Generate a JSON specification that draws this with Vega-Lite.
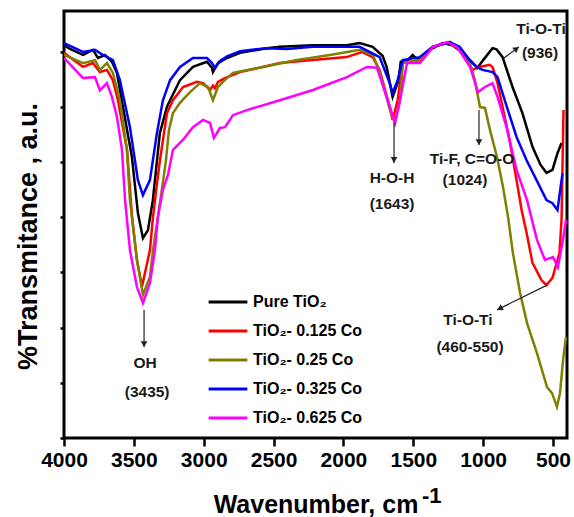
{
"$schema": "https://vega.github.io/schema/vega-lite/v6.json",
"width": 503, "height": 427,
"autosize": "none",
"padding": {"left": 64, "top": 11, "right": 7, "bottom": 79},
"background": "white",
"config": {"view": {"stroke": "black", "strokeWidth": 3}, "font": "Liberation Sans"},
"datasets": {
"spec": [
{"s":"Pure TiO₂","w":4000,"t":92.0},{"s":"Pure TiO₂","w":3957,"t":91.1},{"s":"Pure TiO₂","w":3864,"t":89.7},{"s":"Pure TiO₂","w":3793,"t":90.9},{"s":"Pure TiO₂","w":3757,"t":89.0},{"s":"Pure TiO₂","w":3707,"t":89.7},{"s":"Pure TiO₂","w":3657,"t":88.1},{"s":"Pure TiO₂","w":3621,"t":85.5},{"s":"Pure TiO₂","w":3578,"t":77.5},{"s":"Pure TiO₂","w":3514,"t":65.8},{"s":"Pure TiO₂","w":3471,"t":52.7},{"s":"Pure TiO₂","w":3435,"t":46.8},{"s":"Pure TiO₂","w":3399,"t":48.7},{"s":"Pure TiO₂","w":3364,"t":55.7},{"s":"Pure TiO₂","w":3314,"t":71.4},{"s":"Pure TiO₂","w":3264,"t":77.5},{"s":"Pure TiO₂","w":3241,"t":79.1},{"s":"Pure TiO₂","w":3170,"t":83.8},{"s":"Pure TiO₂","w":3077,"t":86.9},{"s":"Pure TiO₂","w":2977,"t":88.1},{"s":"Pure TiO₂","w":2941,"t":86.7},{"s":"Pure TiO₂","w":2934,"t":85.7},{"s":"Pure TiO₂","w":2898,"t":87.8},{"s":"Pure TiO₂","w":2833,"t":89.0},{"s":"Pure TiO₂","w":2740,"t":90.2},{"s":"Pure TiO₂","w":2549,"t":91.3},{"s":"Pure TiO₂","w":2456,"t":91.6},{"s":"Pure TiO₂","w":2220,"t":92.0},{"s":"Pure TiO₂","w":1977,"t":92.0},{"s":"Pure TiO₂","w":1884,"t":92.5},{"s":"Pure TiO₂","w":1791,"t":91.6},{"s":"Pure TiO₂","w":1720,"t":89.5},{"s":"Pure TiO₂","w":1691,"t":86.9},{"s":"Pure TiO₂","w":1648,"t":79.9},{"s":"Pure TiO₂","w":1605,"t":83.8},{"s":"Pure TiO₂","w":1590,"t":88.1},{"s":"Pure TiO₂","w":1540,"t":88.5},{"s":"Pure TiO₂","w":1505,"t":89.7},{"s":"Pure TiO₂","w":1470,"t":88.6},{"s":"Pure TiO₂","w":1455,"t":89.0},{"s":"Pure TiO₂","w":1420,"t":89.7},{"s":"Pure TiO₂","w":1383,"t":90.9},{"s":"Pure TiO₂","w":1290,"t":92.5},{"s":"Pure TiO₂","w":1219,"t":92.0},{"s":"Pure TiO₂","w":1147,"t":90.2},{"s":"Pure TiO₂","w":1080,"t":88.0},{"s":"Pure TiO₂","w":1040,"t":86.7},{"s":"Pure TiO₂","w":1000,"t":88.5},{"s":"Pure TiO₂","w":933,"t":91.3},{"s":"Pure TiO₂","w":904,"t":91.0},{"s":"Pure TiO₂","w":861,"t":89.2},{"s":"Pure TiO₂","w":790,"t":82.2},{"s":"Pure TiO₂","w":719,"t":76.1},{"s":"Pure TiO₂","w":647,"t":68.2},{"s":"Pure TiO₂","w":590,"t":64.0},{"s":"Pure TiO₂","w":547,"t":62.1},{"s":"Pure TiO₂","w":504,"t":62.8},{"s":"Pure TiO₂","w":468,"t":66.7},{"s":"Pure TiO₂","w":439,"t":69.1},

{"s":"TiO₂- 0.125 Co","w":4000,"t":90.2},{"s":"TiO₂- 0.125 Co","w":3864,"t":86.9},{"s":"TiO₂- 0.125 Co","w":3793,"t":87.8},{"s":"TiO₂- 0.125 Co","w":3743,"t":85.7},{"s":"TiO₂- 0.125 Co","w":3693,"t":86.2},{"s":"TiO₂- 0.125 Co","w":3650,"t":83.8},{"s":"TiO₂- 0.125 Co","w":3614,"t":79.1},{"s":"TiO₂- 0.125 Co","w":3549,"t":67.5},{"s":"TiO₂- 0.125 Co","w":3513,"t":51.8},{"s":"TiO₂- 0.125 Co","w":3478,"t":41.7},{"s":"TiO₂- 0.125 Co","w":3442,"t":35.4},{"s":"TiO₂- 0.125 Co","w":3385,"t":44.0},{"s":"TiO₂- 0.125 Co","w":3363,"t":51.8},{"s":"TiO₂- 0.125 Co","w":3334,"t":59.7},{"s":"TiO₂- 0.125 Co","w":3313,"t":65.1},{"s":"TiO₂- 0.125 Co","w":3263,"t":76.1},{"s":"TiO₂- 0.125 Co","w":3220,"t":79.1},{"s":"TiO₂- 0.125 Co","w":3148,"t":82.2},{"s":"TiO₂- 0.125 Co","w":3048,"t":83.4},{"s":"TiO₂- 0.125 Co","w":3005,"t":83.1},{"s":"TiO₂- 0.125 Co","w":2955,"t":81.5},{"s":"TiO₂- 0.125 Co","w":2934,"t":82.5},{"s":"TiO₂- 0.125 Co","w":2920,"t":81.9},{"s":"TiO₂- 0.125 Co","w":2898,"t":83.4},{"s":"TiO₂- 0.125 Co","w":2848,"t":84.3},{"s":"TiO₂- 0.125 Co","w":2740,"t":85.7},{"s":"TiO₂- 0.125 Co","w":2456,"t":87.8},{"s":"TiO₂- 0.125 Co","w":2220,"t":88.5},{"s":"TiO₂- 0.125 Co","w":1977,"t":89.2},{"s":"TiO₂- 0.125 Co","w":1869,"t":90.4},{"s":"TiO₂- 0.125 Co","w":1791,"t":89.2},{"s":"TiO₂- 0.125 Co","w":1741,"t":86.2},{"s":"TiO₂- 0.125 Co","w":1669,"t":77.5},{"s":"TiO₂- 0.125 Co","w":1648,"t":74.5},{"s":"TiO₂- 0.125 Co","w":1612,"t":79.1},{"s":"TiO₂- 0.125 Co","w":1576,"t":87.8},{"s":"TiO₂- 0.125 Co","w":1455,"t":88.5},{"s":"TiO₂- 0.125 Co","w":1362,"t":91.6},{"s":"TiO₂- 0.125 Co","w":1240,"t":92.7},{"s":"TiO₂- 0.125 Co","w":1169,"t":90.9},{"s":"TiO₂- 0.125 Co","w":1076,"t":86.2},{"s":"TiO₂- 0.125 Co","w":1026,"t":86.9},{"s":"TiO₂- 0.125 Co","w":954,"t":87.4},{"s":"TiO₂- 0.125 Co","w":933,"t":86.9},{"s":"TiO₂- 0.125 Co","w":897,"t":83.1},{"s":"TiO₂- 0.125 Co","w":861,"t":77.5},{"s":"TiO₂- 0.125 Co","w":811,"t":69.8},{"s":"TiO₂- 0.125 Co","w":761,"t":60.4},{"s":"TiO₂- 0.125 Co","w":725,"t":53.4},{"s":"TiO₂- 0.125 Co","w":690,"t":48.2},{"s":"TiO₂- 0.125 Co","w":647,"t":41.0},{"s":"TiO₂- 0.125 Co","w":583,"t":37.0},{"s":"TiO₂- 0.125 Co","w":547,"t":35.8},{"s":"TiO₂- 0.125 Co","w":504,"t":37.5},{"s":"TiO₂- 0.125 Co","w":454,"t":43.3},{"s":"TiO₂- 0.125 Co","w":439,"t":51.1},{"s":"TiO₂- 0.125 Co","w":425,"t":76.8},

{"s":"TiO₂- 0.25 Co","w":4000,"t":89.7},{"s":"TiO₂- 0.25 Co","w":3864,"t":87.8},{"s":"TiO₂- 0.25 Co","w":3778,"t":88.5},{"s":"TiO₂- 0.25 Co","w":3743,"t":86.2},{"s":"TiO₂- 0.25 Co","w":3693,"t":87.8},{"s":"TiO₂- 0.25 Co","w":3650,"t":85.5},{"s":"TiO₂- 0.25 Co","w":3600,"t":79.1},{"s":"TiO₂- 0.25 Co","w":3550,"t":67.5},{"s":"TiO₂- 0.25 Co","w":3528,"t":55.7},{"s":"TiO₂- 0.25 Co","w":3478,"t":41.7},{"s":"TiO₂- 0.25 Co","w":3435,"t":33.5},{"s":"TiO₂- 0.25 Co","w":3385,"t":37.7},{"s":"TiO₂- 0.25 Co","w":3363,"t":44.0},{"s":"TiO₂- 0.25 Co","w":3328,"t":51.8},{"s":"TiO₂- 0.25 Co","w":3290,"t":60.4},{"s":"TiO₂- 0.25 Co","w":3270,"t":65.1},{"s":"TiO₂- 0.25 Co","w":3249,"t":72.1},{"s":"TiO₂- 0.25 Co","w":3220,"t":76.1},{"s":"TiO₂- 0.25 Co","w":3170,"t":78.5},{"s":"TiO₂- 0.25 Co","w":3098,"t":81.0},{"s":"TiO₂- 0.25 Co","w":3027,"t":83.1},{"s":"TiO₂- 0.25 Co","w":2969,"t":82.2},{"s":"TiO₂- 0.25 Co","w":2934,"t":79.1},{"s":"TiO₂- 0.25 Co","w":2898,"t":82.2},{"s":"TiO₂- 0.25 Co","w":2862,"t":83.4},{"s":"TiO₂- 0.25 Co","w":2791,"t":85.5},{"s":"TiO₂- 0.25 Co","w":2576,"t":86.9},{"s":"TiO₂- 0.25 Co","w":2333,"t":88.5},{"s":"TiO₂- 0.25 Co","w":2096,"t":89.7},{"s":"TiO₂- 0.25 Co","w":1882,"t":90.9},{"s":"TiO₂- 0.25 Co","w":1789,"t":89.7},{"s":"TiO₂- 0.25 Co","w":1738,"t":85.5},{"s":"TiO₂- 0.25 Co","w":1667,"t":76.8},{"s":"TiO₂- 0.25 Co","w":1631,"t":73.8},{"s":"TiO₂- 0.25 Co","w":1595,"t":79.1},{"s":"TiO₂- 0.25 Co","w":1574,"t":87.8},{"s":"TiO₂- 0.25 Co","w":1452,"t":88.5},{"s":"TiO₂- 0.25 Co","w":1359,"t":91.6},{"s":"TiO₂- 0.25 Co","w":1237,"t":92.7},{"s":"TiO₂- 0.25 Co","w":1166,"t":90.9},{"s":"TiO₂- 0.25 Co","w":1095,"t":87.8},{"s":"TiO₂- 0.25 Co","w":1059,"t":83.8},{"s":"TiO₂- 0.25 Co","w":1023,"t":77.5},{"s":"TiO₂- 0.25 Co","w":987,"t":77.3},{"s":"TiO₂- 0.25 Co","w":951,"t":72.1},{"s":"TiO₂- 0.25 Co","w":901,"t":65.8},{"s":"TiO₂- 0.25 Co","w":858,"t":58.8},{"s":"TiO₂- 0.25 Co","w":822,"t":51.8},{"s":"TiO₂- 0.25 Co","w":787,"t":43.3},{"s":"TiO₂- 0.25 Co","w":736,"t":34.0},{"s":"TiO₂- 0.25 Co","w":686,"t":26.9},{"s":"TiO₂- 0.25 Co","w":615,"t":19.9},{"s":"TiO₂- 0.25 Co","w":543,"t":11.9},{"s":"TiO₂- 0.25 Co","w":507,"t":10.5},{"s":"TiO₂- 0.25 Co","w":472,"t":7.3},{"s":"TiO₂- 0.25 Co","w":450,"t":10.5},{"s":"TiO₂- 0.25 Co","w":428,"t":18.3},{"s":"TiO₂- 0.25 Co","w":407,"t":23.7},

{"s":"TiO₂- 0.325 Co","w":4000,"t":92.5},{"s":"TiO₂- 0.325 Co","w":3864,"t":90.4},{"s":"TiO₂- 0.325 Co","w":3778,"t":90.9},{"s":"TiO₂- 0.325 Co","w":3721,"t":89.7},{"s":"TiO₂- 0.325 Co","w":3650,"t":88.5},{"s":"TiO₂- 0.325 Co","w":3600,"t":83.8},{"s":"TiO₂- 0.325 Co","w":3528,"t":72.8},{"s":"TiO₂- 0.325 Co","w":3471,"t":60.4},{"s":"TiO₂- 0.325 Co","w":3435,"t":56.9},{"s":"TiO₂- 0.325 Co","w":3385,"t":60.4},{"s":"TiO₂- 0.325 Co","w":3335,"t":71.4},{"s":"TiO₂- 0.325 Co","w":3292,"t":79.1},{"s":"TiO₂- 0.325 Co","w":3241,"t":83.8},{"s":"TiO₂- 0.325 Co","w":3170,"t":86.9},{"s":"TiO₂- 0.325 Co","w":3077,"t":89.0},{"s":"TiO₂- 0.325 Co","w":2977,"t":89.0},{"s":"TiO₂- 0.325 Co","w":2941,"t":87.8},{"s":"TiO₂- 0.325 Co","w":2920,"t":86.7},{"s":"TiO₂- 0.325 Co","w":2884,"t":88.3},{"s":"TiO₂- 0.325 Co","w":2833,"t":89.4},{"s":"TiO₂- 0.325 Co","w":2740,"t":90.6},{"s":"TiO₂- 0.325 Co","w":2549,"t":91.3},{"s":"TiO₂- 0.325 Co","w":2406,"t":91.1},{"s":"TiO₂- 0.325 Co","w":2220,"t":91.6},{"s":"TiO₂- 0.325 Co","w":1884,"t":91.6},{"s":"TiO₂- 0.325 Co","w":1741,"t":89.2},{"s":"TiO₂- 0.325 Co","w":1669,"t":83.1},{"s":"TiO₂- 0.325 Co","w":1648,"t":80.8},{"s":"TiO₂- 0.325 Co","w":1612,"t":83.8},{"s":"TiO₂- 0.325 Co","w":1576,"t":88.5},{"s":"TiO₂- 0.325 Co","w":1455,"t":89.2},{"s":"TiO₂- 0.325 Co","w":1362,"t":91.6},{"s":"TiO₂- 0.325 Co","w":1240,"t":92.7},{"s":"TiO₂- 0.325 Co","w":1169,"t":91.6},{"s":"TiO₂- 0.325 Co","w":1097,"t":88.5},{"s":"TiO₂- 0.325 Co","w":1047,"t":86.9},{"s":"TiO₂- 0.325 Co","w":1005,"t":86.2},{"s":"TiO₂- 0.325 Co","w":933,"t":85.7},{"s":"TiO₂- 0.325 Co","w":897,"t":84.5},{"s":"TiO₂- 0.325 Co","w":833,"t":77.8},{"s":"TiO₂- 0.325 Co","w":761,"t":70.5},{"s":"TiO₂- 0.325 Co","w":690,"t":65.1},{"s":"TiO₂- 0.325 Co","w":618,"t":60.4},{"s":"TiO₂- 0.325 Co","w":547,"t":55.7},{"s":"TiO₂- 0.325 Co","w":504,"t":55.0},{"s":"TiO₂- 0.325 Co","w":468,"t":53.4},{"s":"TiO₂- 0.325 Co","w":432,"t":62.0},

{"s":"TiO₂- 0.625 Co","w":4000,"t":89.0},{"s":"TiO₂- 0.625 Co","w":3864,"t":84.3},{"s":"TiO₂- 0.625 Co","w":3778,"t":84.5},{"s":"TiO₂- 0.625 Co","w":3743,"t":81.4},{"s":"TiO₂- 0.625 Co","w":3693,"t":83.1},{"s":"TiO₂- 0.625 Co","w":3657,"t":79.9},{"s":"TiO₂- 0.625 Co","w":3621,"t":75.2},{"s":"TiO₂- 0.625 Co","w":3585,"t":67.5},{"s":"TiO₂- 0.625 Co","w":3563,"t":55.7},{"s":"TiO₂- 0.625 Co","w":3528,"t":44.0},{"s":"TiO₂- 0.625 Co","w":3478,"t":35.4},{"s":"TiO₂- 0.625 Co","w":3435,"t":31.6},{"s":"TiO₂- 0.625 Co","w":3385,"t":36.3},{"s":"TiO₂- 0.625 Co","w":3349,"t":44.0},{"s":"TiO₂- 0.625 Co","w":3328,"t":51.8},{"s":"TiO₂- 0.625 Co","w":3292,"t":58.1},{"s":"TiO₂- 0.625 Co","w":3256,"t":61.6},{"s":"TiO₂- 0.625 Co","w":3220,"t":67.5},{"s":"TiO₂- 0.625 Co","w":3149,"t":69.8},{"s":"TiO₂- 0.625 Co","w":3077,"t":72.8},{"s":"TiO₂- 0.625 Co","w":3005,"t":74.5},{"s":"TiO₂- 0.625 Co","w":2955,"t":73.8},{"s":"TiO₂- 0.625 Co","w":2927,"t":70.3},{"s":"TiO₂- 0.625 Co","w":2884,"t":72.6},{"s":"TiO₂- 0.625 Co","w":2848,"t":72.8},{"s":"TiO₂- 0.625 Co","w":2791,"t":75.6},{"s":"TiO₂- 0.625 Co","w":2691,"t":76.8},{"s":"TiO₂- 0.625 Co","w":2455,"t":79.1},{"s":"TiO₂- 0.625 Co","w":2218,"t":81.5},{"s":"TiO₂- 0.625 Co","w":1975,"t":84.5},{"s":"TiO₂- 0.625 Co","w":1832,"t":86.9},{"s":"TiO₂- 0.625 Co","w":1760,"t":86.7},{"s":"TiO₂- 0.625 Co","w":1738,"t":84.5},{"s":"TiO₂- 0.625 Co","w":1667,"t":77.5},{"s":"TiO₂- 0.625 Co","w":1631,"t":73.8},{"s":"TiO₂- 0.625 Co","w":1595,"t":79.1},{"s":"TiO₂- 0.625 Co","w":1545,"t":87.8},{"s":"TiO₂- 0.625 Co","w":1452,"t":87.8},{"s":"TiO₂- 0.625 Co","w":1359,"t":91.6},{"s":"TiO₂- 0.625 Co","w":1259,"t":92.7},{"s":"TiO₂- 0.625 Co","w":1187,"t":91.6},{"s":"TiO₂- 0.625 Co","w":1094,"t":86.9},{"s":"TiO₂- 0.625 Co","w":1037,"t":81.0},{"s":"TiO₂- 0.625 Co","w":987,"t":82.2},{"s":"TiO₂- 0.625 Co","w":933,"t":83.1},{"s":"TiO₂- 0.625 Co","w":897,"t":79.9},{"s":"TiO₂- 0.625 Co","w":833,"t":72.8},{"s":"TiO₂- 0.625 Co","w":761,"t":62.8},{"s":"TiO₂- 0.625 Co","w":686,"t":55.7},{"s":"TiO₂- 0.625 Co","w":647,"t":50.6},{"s":"TiO₂- 0.625 Co","w":615,"t":46.4},{"s":"TiO₂- 0.625 Co","w":558,"t":41.7},{"s":"TiO₂- 0.625 Co","w":500,"t":42.4},{"s":"TiO₂- 0.625 Co","w":465,"t":40.0},{"s":"TiO₂- 0.625 Co","w":429,"t":46.4},{"s":"TiO₂- 0.625 Co","w":407,"t":51.1}
],
"notes": [
{"label":"OH","w":3420,"t":17.6},
{"label":"(3435)","w":3405,"t":10.8},
{"label":"H-O-H","w":1652,"t":60.9},
{"label":"(1643)","w":1652,"t":54.8},
{"label":"Ti-F, C=O-O","w":1080,"t":65.3},
{"label":"(1024)","w":1130,"t":60.4},
{"label":"Ti-O-Ti","w":586,"t":95.8},
{"label":"(936)","w":593,"t":90.2},
{"label":"Ti-O-Ti","w":1109,"t":27.6},
{"label":"(460-550)","w":1094,"t":21.3}
],
"vArrows": [
{"w":3427,"t":30.0,"w2":3427,"t2":21.3},
{"w":1638,"t":73.8,"w2":1638,"t2":64.4},
{"w":1030,"t":76.8,"w2":1030,"t2":68.6}
],
"arrowA": [{"w":858,"t":88.8,"w2":744,"t2":91.6}],
"arrowB": [{"w":543,"t":35.8,"w2":901,"t2":30.0}],
"sup": [{"label":"-1","w":1438,"t":-15.2}]
},
"layer": [
{
"data": {"name": "spec"},
"mark": {"type": "line", "strokeWidth": 2.5, "clip": true},
"encoding": {
"x": {"field": "w", "type": "quantitative",
"scale": {"domain": [4000, 400], "nice": false, "zero": false},
"axis": {"values": [4000,3750,3500,3250,3000,2750,2500,2250,2000,1750,1500,1250,1000,750,500],
"labelExpr": "datum.value % 500 == 0 ? datum.label : ''",
"format": "d", "domain": false, "grid": false,
"tickColor": "black", "tickWidth": 2.5, "tickSize": 8,
"labelFontSize": 21, "labelFontWeight": "bold", "labelColor": "black", "labelPadding": 3,
"labelFlush": false, "labelOverlap": false,
"title": "Wavenumber, cm", "titleFontSize": 25, "titleFontWeight": "bold", "titleColor": "black",
"titleY": 74, "titleBaseline": "alphabetic"}},
"y": {"field": "t", "type": "quantitative",
"scale": {"domain": [0, 100], "nice": false},
"axis": {"values": [0,3.232,6.464,9.696,12.928,16.16,19.392,22.624,25.856,29.088,32.32,35.552,38.784,42.016,45.248,48.48,51.712,54.944,58.176,61.408,64.64,67.872,71.104,74.336,77.568,80.8,84.032,87.264,90.496,93.728,96.96],
"labels": false, "domain": false, "grid": false,
"tickColor": "black", "tickWidth": 2.5,
"tickSize": {"condition": {"test": "round(datum.value/3.232) % 2 == 1", "value": 8}, "value": 4},
"title": "%Transmitance , a.u.", "titleFontSize": 27, "titleFontWeight": "bold", "titleColor": "black",
"titleX": -36, "titleY": 225, "titleAngle": -90, "titleAlign": "center", "titleBaseline": "middle"}},
"color": {"field": "s", "type": "nominal",
"scale": {"domain": ["Pure TiO₂","TiO₂- 0.125 Co","TiO₂- 0.25 Co","TiO₂- 0.325 Co","TiO₂- 0.625 Co"],
"range": ["#000000","#ff0000","#808000","#0000ff","#ff00ff"]},
"legend": {"orient": "none", "legendX": 143, "legendY": 270, "title": null, "padding": 0,
"symbolType": "stroke", "symbolSize": 1500, "symbolStrokeWidth": 3,
"labelFontSize": 16, "labelFontWeight": "bold", "labelColor": "black", "labelOffset": 4, "labelLimit": 300,
"rowPadding": 0}}
}
},
{
"data": {"name": "notes"},
"mark": {"type": "text", "fontSize": 15.5, "fontWeight": "bold", "color": "#1a1a1a", "align": "center", "baseline": "middle"},
"encoding": {"x": {"field": "w", "type": "quantitative"}, "y": {"field": "t", "type": "quantitative"}, "text": {"field": "label"}}
},
{
"data": {"name": "sup"},
"mark": {"type": "text", "fontSize": 22, "fontWeight": "bold", "color": "black", "align": "left", "baseline": "alphabetic"},
"encoding": {"x": {"field": "w", "type": "quantitative"}, "y": {"field": "t", "type": "quantitative"}, "text": {"field": "label"}}
},
{
"data": {"name": "vArrows"},
"mark": {"type": "rule", "strokeWidth": 1.2, "color": "#222"},
"encoding": {"x": {"field": "w", "type": "quantitative"}, "y": {"field": "t", "type": "quantitative"}, "x2": {"field": "w2"}, "y2": {"field": "t2"}}
},
{
"data": {"name": "vArrows"},
"mark": {"type": "point", "shape": "triangle-down", "filled": true, "size": 45, "color": "#222", "opacity": 1, "yOffset": -3},
"encoding": {"x": {"field": "w2", "type": "quantitative"}, "y": {"field": "t2", "type": "quantitative"}}
},
{
"data": {"name": "arrowA"},
"mark": {"type": "rule", "strokeWidth": 1.2, "color": "#222"},
"encoding": {"x": {"field": "w", "type": "quantitative"}, "y": {"field": "t", "type": "quantitative"}, "x2": {"field": "w2"}, "y2": {"field": "t2"}}
},
{
"data": {"name": "arrowA"},
"mark": {"type": "point", "shape": "triangle-up", "filled": true, "size": 45, "color": "#222", "opacity": 1, "angle": 53, "xOffset": -2.4, "yOffset": 1.8},
"encoding": {"x": {"field": "w2", "type": "quantitative"}, "y": {"field": "t2", "type": "quantitative"}}
},
{
"data": {"name": "arrowB"},
"mark": {"type": "rule", "strokeWidth": 1.2, "color": "#222"},
"encoding": {"x": {"field": "w", "type": "quantitative"}, "y": {"field": "t", "type": "quantitative"}, "x2": {"field": "w2"}, "y2": {"field": "t2"}}
},
{
"data": {"name": "arrowB"},
"mark": {"type": "point", "shape": "triangle-up", "filled": true, "size": 45, "color": "#222", "opacity": 1, "angle": 243, "xOffset": 2.7, "yOffset": -1.3},
"encoding": {"x": {"field": "w2", "type": "quantitative"}, "y": {"field": "t2", "type": "quantitative"}}
}
]
}
